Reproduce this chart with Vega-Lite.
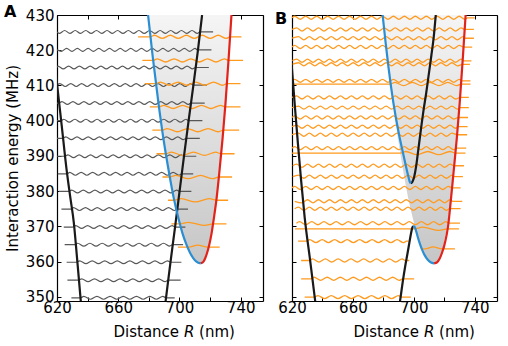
{
  "$schema": "https://vega.github.io/schema/vega-lite/v6.json",
  "padding": {"left": 4, "top": 4, "right": 2, "bottom": 2},
  "config": {
    "font": "DejaVu Sans",
    "view": {"stroke": null},
    "axis": {"labelFont": "DejaVu Sans", "labelFontSize": 15, "labelColor": "#000", "titleFont": "DejaVu Sans", "titleFontSize": 15, "titleFontWeight": "normal", "titleColor": "#000", "domainColor": "#000", "domainWidth": 1.2, "tickColor": "#000", "tickWidth": 1, "tickSize": -4, "grid": false, "labelFlush": false, "labelOverlap": false},
    "title": {"font": "DejaVu Sans", "fontSize": 16, "fontWeight": "bold", "color": "#000", "anchor": "start", "frame": "group", "offset": 0, "baseline": "alphabetic"}
  },
  "datasets": {
    "well": [
      {"e":359.5,"l":714,"r":714},{"e":360,"l":711.1,"r":715.7},{"e":361,"l":709,"r":716.9},{"e":362.5,"l":706.9,"r":718.1},{"e":365,"l":704.4,"r":719.6},{"e":368,"l":702,"r":721},{"e":372,"l":699.5,"r":722.4},{"e":378,"l":696.3,"r":724.3},{"e":385,"l":693.3,"r":726},{"e":395,"l":689.5,"r":728.2},{"e":405,"l":686.3,"r":730.1},{"e":418,"l":682.6,"r":732.2},{"e":430,"l":679.5,"r":734}
    ],
    "potA": [
      {"id":"a1","r":618.5,"e":416.5},{"id":"a1","r":620,"e":410.5},{"id":"a1","r":623.1,"e":398.5},{"id":"a1","r":626.1,"e":386.7},{"id":"a1","r":628.6,"e":378.5},{"id":"a1","r":631,"e":371},{"id":"a1","r":633.3,"e":360},{"id":"a1","r":635.8,"e":347.5},
      {"id":"a2","r":690.6,"e":347.5},{"id":"a2","r":694.2,"e":360},{"id":"a2","r":697.2,"e":370},{"id":"a2","r":700.1,"e":380},{"id":"a2","r":703,"e":390},{"id":"a2","r":706,"e":400},{"id":"a2","r":709.1,"e":410},{"id":"a2","r":712.1,"e":420},{"id":"a2","r":714.8,"e":430}
    ],
    "potB": [
      {"id":"b1","k":"outer","r":618.8,"e":421},{"id":"b1","k":"outer","r":620,"e":414.6},{"id":"b1","k":"outer","r":621.9,"e":404},{"id":"b1","k":"outer","r":623.9,"e":393.4},{"id":"b1","k":"outer","r":626,"e":383},{"id":"b1","k":"outer","r":628.3,"e":372.6},{"id":"b1","k":"outer","r":632,"e":360},{"id":"b1","k":"outer","r":635.6,"e":347.5},
      {"id":"b2","k":"inner-left","r":679.5,"e":430},{"id":"b2","k":"inner-left","r":681.5,"e":422},{"id":"b2","k":"inner-left","r":683.4,"e":415},{"id":"b2","k":"inner-left","r":686.6,"e":405},{"id":"b2","k":"inner-left","r":690.3,"e":396},{"id":"b2","k":"inner-left","r":692.8,"e":391},{"id":"b2","k":"inner-left","r":694.6,"e":387.5},{"id":"b2","k":"inner-left","r":696.2,"e":384.5},{"id":"b2","k":"inner-left","r":697.2,"e":382.8},{"id":"b2","k":"inner-left","r":698,"e":382.2},
      {"id":"b3","k":"outer","r":698,"e":382.2},{"id":"b3","k":"outer","r":699,"e":382.6},{"id":"b3","k":"outer","r":700.2,"e":384},{"id":"b3","k":"outer","r":701.5,"e":387},{"id":"b3","k":"outer","r":703,"e":392},{"id":"b3","k":"outer","r":704.8,"e":398},{"id":"b3","k":"outer","r":706.3,"e":402.8},{"id":"b3","k":"outer","r":708,"e":407.5},{"id":"b3","k":"outer","r":709.5,"e":412.2},{"id":"b3","k":"outer","r":711.5,"e":418.5},{"id":"b3","k":"outer","r":713,"e":423.5},{"id":"b3","k":"outer","r":714.4,"e":430},
      {"id":"b4","k":"outer","r":690.5,"e":347.5},{"id":"b4","k":"outer","r":691.5,"e":350.5},{"id":"b4","k":"outer","r":692.8,"e":354.5},{"id":"b4","k":"outer","r":694.3,"e":358.6},{"id":"b4","k":"outer","r":695.8,"e":362.2},{"id":"b4","k":"outer","r":697,"e":365.2},{"id":"b4","k":"outer","r":698.1,"e":367.9},{"id":"b4","k":"outer","r":698.9,"e":369.5},{"id":"b4","k":"outer","r":699.5,"e":370.1},
      {"id":"b5","k":"inner-left","r":699.5,"e":370.1},{"id":"b5","k":"inner-left","r":700.3,"e":370},{"id":"b5","k":"inner-left","r":701.2,"e":369.1},{"id":"b5","k":"inner-left","r":702.3,"e":367.4},{"id":"b5","k":"inner-left","r":703.6,"e":365.5},{"id":"b5","k":"inner-left","r":705.2,"e":363.6},{"id":"b5","k":"inner-left","r":707,"e":361.9},{"id":"b5","k":"inner-left","r":709,"e":360.6},{"id":"b5","k":"inner-left","r":711,"e":359.8},{"id":"b5","k":"inner-left","r":713.3,"e":359.5},
      {"id":"b6","k":"inner-right","r":713.3,"e":359.5},{"id":"b6","k":"inner-right","r":715.3,"e":359.8},{"id":"b6","k":"inner-right","r":716.8,"e":360.7},{"id":"b6","k":"inner-right","r":718.5,"e":362.5},{"id":"b6","k":"inner-right","r":720,"e":364.6},{"id":"b6","k":"inner-right","r":721.5,"e":367.5},{"id":"b6","k":"inner-right","r":722.6,"e":370.5},{"id":"b6","k":"inner-right","r":724.2,"e":377},{"id":"b6","k":"inner-right","r":726,"e":385},{"id":"b6","k":"inner-right","r":728.2,"e":395},{"id":"b6","k":"inner-right","r":730.1,"e":405},{"id":"b6","k":"inner-right","r":732.2,"e":418},{"id":"b6","k":"inner-right","r":734,"e":430}
    ],
    "wavA": [
      {"i":0,"r":629.4,"e":349.7},{"i":0,"r":635.3,"e":349.7},{"i":0,"r":637.5,"e":350.1},{"i":0,"r":641.8,"e":349.3},{"i":0,"r":646.1,"e":350.1},{"i":0,"r":650.4,"e":349.3},{"i":0,"r":654.7,"e":350.1},{"i":0,"r":659.0,"e":349.3},{"i":0,"r":663.3,"e":350.1},{"i":0,"r":667.6,"e":349.3},{"i":0,"r":671.9,"e":350.1},{"i":0,"r":676.3,"e":349.3},{"i":0,"r":680.6,"e":350.1},{"i":0,"r":684.9,"e":349.3},{"i":0,"r":689.2,"e":350.1},{"i":0,"r":691.3,"e":349.7},{"i":0,"r":696.9,"e":349.7},
      {"i":1,"r":626.8,"e":354.7},{"i":1,"r":634.0,"e":354.7},{"i":1,"r":636.1,"e":355.1},{"i":1,"r":640.3,"e":354.3},{"i":1,"r":644.5,"e":355.1},{"i":1,"r":648.7,"e":354.3},{"i":1,"r":652.9,"e":355.1},{"i":1,"r":657.0,"e":354.3},{"i":1,"r":661.2,"e":355.1},{"i":1,"r":665.4,"e":354.3},{"i":1,"r":669.6,"e":355.1},{"i":1,"r":673.8,"e":354.3},{"i":1,"r":678.0,"e":355.1},{"i":1,"r":682.2,"e":354.3},{"i":1,"r":686.4,"e":355.1},{"i":1,"r":690.6,"e":354.3},{"i":1,"r":692.7,"e":354.7},{"i":1,"r":700.8,"e":354.7},
      {"i":2,"r":626.3,"e":359.8},{"i":2,"r":632.7,"e":359.8},{"i":2,"r":634.8,"e":360.2},{"i":2,"r":638.9,"e":359.4},{"i":2,"r":643.0,"e":360.2},{"i":2,"r":647.1,"e":359.4},{"i":2,"r":651.2,"e":360.2},{"i":2,"r":655.3,"e":359.4},{"i":2,"r":659.4,"e":360.2},{"i":2,"r":663.5,"e":359.4},{"i":2,"r":667.6,"e":360.2},{"i":2,"r":671.7,"e":359.4},{"i":2,"r":675.8,"e":360.2},{"i":2,"r":679.9,"e":359.4},{"i":2,"r":684.0,"e":360.2},{"i":2,"r":688.1,"e":359.4},{"i":2,"r":692.2,"e":360.2},{"i":2,"r":694.2,"e":359.8},{"i":2,"r":701.3,"e":359.8},
      {"i":3,"r":625.0,"e":364.8},{"i":3,"r":631.5,"e":364.8},{"i":3,"r":633.5,"e":365.2},{"i":3,"r":637.5,"e":364.4},{"i":3,"r":641.5,"e":365.2},{"i":3,"r":645.5,"e":364.4},{"i":3,"r":649.5,"e":365.2},{"i":3,"r":653.6,"e":364.4},{"i":3,"r":657.6,"e":365.2},{"i":3,"r":661.6,"e":364.4},{"i":3,"r":665.6,"e":365.2},{"i":3,"r":669.6,"e":364.4},{"i":3,"r":673.6,"e":365.2},{"i":3,"r":677.6,"e":364.4},{"i":3,"r":681.6,"e":365.2},{"i":3,"r":685.6,"e":364.4},{"i":3,"r":689.6,"e":365.2},{"i":3,"r":693.7,"e":364.4},{"i":3,"r":695.7,"e":364.8},{"i":3,"r":702.4,"e":364.8},
      {"i":4,"r":624.4,"e":369.8},{"i":4,"r":630.2,"e":369.8},{"i":4,"r":632.2,"e":370.2},{"i":4,"r":636.1,"e":369.4},{"i":4,"r":640.0,"e":370.2},{"i":4,"r":644.0,"e":369.4},{"i":4,"r":647.9,"e":370.2},{"i":4,"r":651.9,"e":369.4},{"i":4,"r":655.8,"e":370.2},{"i":4,"r":659.7,"e":369.4},{"i":4,"r":663.7,"e":370.2},{"i":4,"r":667.6,"e":369.4},{"i":4,"r":671.6,"e":370.2},{"i":4,"r":675.5,"e":369.4},{"i":4,"r":679.5,"e":370.2},{"i":4,"r":683.4,"e":369.4},{"i":4,"r":687.3,"e":370.2},{"i":4,"r":691.3,"e":369.4},{"i":4,"r":695.2,"e":370.2},{"i":4,"r":697.2,"e":369.8},{"i":4,"r":703.9,"e":369.8},
      {"i":5,"r":622.9,"e":374.9},{"i":5,"r":628.9,"e":374.9},{"i":5,"r":630.8,"e":375.3},{"i":5,"r":634.7,"e":374.5},{"i":5,"r":638.6,"e":375.3},{"i":5,"r":642.5,"e":374.5},{"i":5,"r":646.3,"e":375.3},{"i":5,"r":650.2,"e":374.5},{"i":5,"r":654.1,"e":375.3},{"i":5,"r":658.0,"e":374.5},{"i":5,"r":661.9,"e":375.3},{"i":5,"r":665.7,"e":374.5},{"i":5,"r":669.6,"e":375.3},{"i":5,"r":673.5,"e":374.5},{"i":5,"r":677.4,"e":375.3},{"i":5,"r":681.2,"e":374.5},{"i":5,"r":685.1,"e":375.3},{"i":5,"r":689.0,"e":374.5},{"i":5,"r":692.9,"e":375.3},{"i":5,"r":696.7,"e":374.5},{"i":5,"r":698.6,"e":374.9},{"i":5,"r":705.6,"e":374.9},
      {"i":6,"r":621.3,"e":379.9},{"i":6,"r":627.7,"e":379.9},{"i":6,"r":629.6,"e":380.3},{"i":6,"r":633.4,"e":379.5},{"i":6,"r":637.2,"e":380.3},{"i":6,"r":641.0,"e":379.5},{"i":6,"r":644.8,"e":380.3},{"i":6,"r":648.6,"e":379.5},{"i":6,"r":652.5,"e":380.3},{"i":6,"r":656.3,"e":379.5},{"i":6,"r":660.1,"e":380.3},{"i":6,"r":663.9,"e":379.5},{"i":6,"r":667.7,"e":380.3},{"i":6,"r":671.5,"e":379.5},{"i":6,"r":675.3,"e":380.3},{"i":6,"r":679.1,"e":379.5},{"i":6,"r":682.9,"e":380.3},{"i":6,"r":686.7,"e":379.5},{"i":6,"r":690.6,"e":380.3},{"i":6,"r":694.4,"e":379.5},{"i":6,"r":698.2,"e":380.3},{"i":6,"r":700.1,"e":379.9},{"i":6,"r":707.8,"e":379.9},
      {"i":7,"r":620.5,"e":384.9},{"i":7,"r":626.4,"e":384.9},{"i":7,"r":628.3,"e":385.3},{"i":7,"r":632.0,"e":384.5},{"i":7,"r":635.8,"e":385.3},{"i":7,"r":639.5,"e":384.5},{"i":7,"r":643.3,"e":385.3},{"i":7,"r":647.0,"e":384.5},{"i":7,"r":650.8,"e":385.3},{"i":7,"r":654.6,"e":384.5},{"i":7,"r":658.3,"e":385.3},{"i":7,"r":662.1,"e":384.5},{"i":7,"r":665.8,"e":385.3},{"i":7,"r":669.6,"e":384.5},{"i":7,"r":673.4,"e":385.3},{"i":7,"r":677.1,"e":384.5},{"i":7,"r":680.9,"e":385.3},{"i":7,"r":684.6,"e":384.5},{"i":7,"r":688.4,"e":385.3},{"i":7,"r":692.1,"e":384.5},{"i":7,"r":695.9,"e":385.3},{"i":7,"r":699.7,"e":384.5},{"i":7,"r":701.6,"e":384.9},{"i":7,"r":709.0,"e":384.9},
      {"i":8,"r":620.0,"e":389.9},{"i":8,"r":625.2,"e":389.9},{"i":8,"r":627.1,"e":390.3},{"i":8,"r":630.8,"e":389.5},{"i":8,"r":634.5,"e":390.3},{"i":8,"r":638.2,"e":389.5},{"i":8,"r":641.9,"e":390.3},{"i":8,"r":645.6,"e":389.5},{"i":8,"r":649.3,"e":390.3},{"i":8,"r":653.0,"e":389.5},{"i":8,"r":656.7,"e":390.3},{"i":8,"r":660.4,"e":389.5},{"i":8,"r":664.1,"e":390.3},{"i":8,"r":667.8,"e":389.5},{"i":8,"r":671.5,"e":390.3},{"i":8,"r":675.2,"e":389.5},{"i":8,"r":678.9,"e":390.3},{"i":8,"r":682.6,"e":389.5},{"i":8,"r":686.3,"e":390.3},{"i":8,"r":690.0,"e":389.5},{"i":8,"r":693.7,"e":390.3},{"i":8,"r":697.4,"e":389.5},{"i":8,"r":701.1,"e":390.3},{"i":8,"r":703.0,"e":389.9},{"i":8,"r":711.0,"e":389.9},
      {"i":9,"r":620.0,"e":395.0},{"i":9,"r":623.9,"e":395.0},{"i":9,"r":625.7,"e":395.4},{"i":9,"r":629.4,"e":394.6},{"i":9,"r":633.1,"e":395.4},{"i":9,"r":636.7,"e":394.6},{"i":9,"r":640.4,"e":395.4},{"i":9,"r":644.0,"e":394.6},{"i":9,"r":647.7,"e":395.4},{"i":9,"r":651.3,"e":394.6},{"i":9,"r":655.0,"e":395.4},{"i":9,"r":658.6,"e":394.6},{"i":9,"r":662.3,"e":395.4},{"i":9,"r":666.0,"e":394.6},{"i":9,"r":669.6,"e":395.4},{"i":9,"r":673.3,"e":394.6},{"i":9,"r":676.9,"e":395.4},{"i":9,"r":680.6,"e":394.6},{"i":9,"r":684.2,"e":395.4},{"i":9,"r":687.9,"e":394.6},{"i":9,"r":691.5,"e":395.4},{"i":9,"r":695.2,"e":394.6},{"i":9,"r":698.9,"e":395.4},{"i":9,"r":702.5,"e":394.6},{"i":9,"r":704.5,"e":395.0},{"i":9,"r":713.3,"e":395.0},
      {"i":10,"r":620.0,"e":400.0},{"i":10,"r":622.6,"e":400.0},{"i":10,"r":624.4,"e":400.4},{"i":10,"r":628.0,"e":399.6},{"i":10,"r":631.7,"e":400.4},{"i":10,"r":635.3,"e":399.6},{"i":10,"r":638.9,"e":400.4},{"i":10,"r":642.6,"e":399.6},{"i":10,"r":646.2,"e":400.4},{"i":10,"r":649.8,"e":399.6},{"i":10,"r":653.5,"e":400.4},{"i":10,"r":657.1,"e":399.6},{"i":10,"r":660.7,"e":400.4},{"i":10,"r":664.3,"e":399.6},{"i":10,"r":668.0,"e":400.4},{"i":10,"r":671.6,"e":399.6},{"i":10,"r":675.2,"e":400.4},{"i":10,"r":678.9,"e":399.6},{"i":10,"r":682.5,"e":400.4},{"i":10,"r":686.1,"e":399.6},{"i":10,"r":689.8,"e":400.4},{"i":10,"r":693.4,"e":399.6},{"i":10,"r":697.0,"e":400.4},{"i":10,"r":700.7,"e":399.6},{"i":10,"r":704.3,"e":400.4},{"i":10,"r":706.0,"e":400.0},{"i":10,"r":715.0,"e":400.0},
      {"i":11,"r":620.0,"e":405.0},{"i":11,"r":621.4,"e":405.0},{"i":11,"r":623.2,"e":405.4},{"i":11,"r":626.8,"e":404.6},{"i":11,"r":630.4,"e":405.4},{"i":11,"r":634.0,"e":404.6},{"i":11,"r":637.6,"e":405.4},{"i":11,"r":641.2,"e":404.6},{"i":11,"r":644.7,"e":405.4},{"i":11,"r":648.3,"e":404.6},{"i":11,"r":651.9,"e":405.4},{"i":11,"r":655.5,"e":404.6},{"i":11,"r":659.1,"e":405.4},{"i":11,"r":662.7,"e":404.6},{"i":11,"r":666.3,"e":405.4},{"i":11,"r":669.9,"e":404.6},{"i":11,"r":673.5,"e":405.4},{"i":11,"r":677.1,"e":404.6},{"i":11,"r":680.6,"e":405.4},{"i":11,"r":684.2,"e":404.6},{"i":11,"r":687.8,"e":405.4},{"i":11,"r":691.4,"e":404.6},{"i":11,"r":695.0,"e":405.4},{"i":11,"r":698.6,"e":404.6},{"i":11,"r":702.2,"e":405.4},{"i":11,"r":705.8,"e":404.6},{"i":11,"r":707.5,"e":405.0},{"i":11,"r":716.5,"e":405.0},
      {"i":12,"r":620.0,"e":410.1},{"i":12,"r":621.9,"e":410.5},{"i":12,"r":625.4,"e":409.7},{"i":12,"r":629.0,"e":410.5},{"i":12,"r":632.6,"e":409.7},{"i":12,"r":636.1,"e":410.5},{"i":12,"r":639.7,"e":409.7},{"i":12,"r":643.3,"e":410.5},{"i":12,"r":646.8,"e":409.7},{"i":12,"r":650.4,"e":410.5},{"i":12,"r":653.9,"e":409.7},{"i":12,"r":657.5,"e":410.5},{"i":12,"r":661.1,"e":409.7},{"i":12,"r":664.6,"e":410.5},{"i":12,"r":668.2,"e":409.7},{"i":12,"r":671.7,"e":410.5},{"i":12,"r":675.3,"e":409.7},{"i":12,"r":678.9,"e":410.5},{"i":12,"r":682.4,"e":409.7},{"i":12,"r":686.0,"e":410.5},{"i":12,"r":689.6,"e":409.7},{"i":12,"r":693.1,"e":410.5},{"i":12,"r":696.7,"e":409.7},{"i":12,"r":700.2,"e":410.5},{"i":12,"r":703.8,"e":409.7},{"i":12,"r":707.4,"e":410.5},{"i":12,"r":709.0,"e":410.1},{"i":12,"r":718.0,"e":410.1},
      {"i":13,"r":620.0,"e":415.1},{"i":13,"r":620.6,"e":415.5},{"i":13,"r":624.1,"e":414.7},{"i":13,"r":627.6,"e":415.5},{"i":13,"r":631.1,"e":414.7},{"i":13,"r":634.6,"e":415.5},{"i":13,"r":638.2,"e":414.7},{"i":13,"r":641.7,"e":415.5},{"i":13,"r":645.2,"e":414.7},{"i":13,"r":648.7,"e":415.5},{"i":13,"r":652.2,"e":414.7},{"i":13,"r":655.8,"e":415.5},{"i":13,"r":659.3,"e":414.7},{"i":13,"r":662.8,"e":415.5},{"i":13,"r":666.3,"e":414.7},{"i":13,"r":669.8,"e":415.5},{"i":13,"r":673.4,"e":414.7},{"i":13,"r":676.9,"e":415.5},{"i":13,"r":680.4,"e":414.7},{"i":13,"r":683.9,"e":415.5},{"i":13,"r":687.4,"e":414.7},{"i":13,"r":691.0,"e":415.5},{"i":13,"r":694.5,"e":414.7},{"i":13,"r":698.0,"e":415.5},{"i":13,"r":701.5,"e":414.7},{"i":13,"r":705.0,"e":415.5},{"i":13,"r":708.6,"e":414.7},{"i":13,"r":710.4,"e":415.1},{"i":13,"r":719.2,"e":415.1},
      {"i":14,"r":620.0,"e":420.1},{"i":14,"r":622.8,"e":419.7},{"i":14,"r":626.3,"e":420.5},{"i":14,"r":629.8,"e":419.7},{"i":14,"r":633.3,"e":420.5},{"i":14,"r":636.8,"e":419.7},{"i":14,"r":640.3,"e":420.5},{"i":14,"r":643.8,"e":419.7},{"i":14,"r":647.3,"e":420.5},{"i":14,"r":650.8,"e":419.7},{"i":14,"r":654.3,"e":420.5},{"i":14,"r":657.8,"e":419.7},{"i":14,"r":661.3,"e":420.5},{"i":14,"r":664.7,"e":419.7},{"i":14,"r":668.2,"e":420.5},{"i":14,"r":671.7,"e":419.7},{"i":14,"r":675.2,"e":420.5},{"i":14,"r":678.7,"e":419.7},{"i":14,"r":682.2,"e":420.5},{"i":14,"r":685.7,"e":419.7},{"i":14,"r":689.2,"e":420.5},{"i":14,"r":692.7,"e":419.7},{"i":14,"r":696.2,"e":420.5},{"i":14,"r":699.7,"e":419.7},{"i":14,"r":703.2,"e":420.5},{"i":14,"r":706.7,"e":419.7},{"i":14,"r":710.2,"e":420.5},{"i":14,"r":711.9,"e":420.1},{"i":14,"r":720.9,"e":420.1},
      {"i":15,"r":620.0,"e":425.2},{"i":15,"r":621.5,"e":424.8},{"i":15,"r":625.0,"e":425.6},{"i":15,"r":628.4,"e":424.8},{"i":15,"r":631.9,"e":425.6},{"i":15,"r":635.4,"e":424.8},{"i":15,"r":638.8,"e":425.6},{"i":15,"r":642.3,"e":424.8},{"i":15,"r":645.8,"e":425.6},{"i":15,"r":649.2,"e":424.8},{"i":15,"r":652.7,"e":425.6},{"i":15,"r":656.2,"e":424.8},{"i":15,"r":659.6,"e":425.6},{"i":15,"r":663.1,"e":424.8},{"i":15,"r":666.6,"e":425.6},{"i":15,"r":670.0,"e":424.8},{"i":15,"r":673.5,"e":425.6},{"i":15,"r":677.0,"e":424.8},{"i":15,"r":680.5,"e":425.6},{"i":15,"r":683.9,"e":424.8},{"i":15,"r":687.4,"e":425.6},{"i":15,"r":690.9,"e":424.8},{"i":15,"r":694.3,"e":425.6},{"i":15,"r":697.8,"e":424.8},{"i":15,"r":701.3,"e":425.6},{"i":15,"r":704.7,"e":424.8},{"i":15,"r":708.2,"e":425.6},{"i":15,"r":711.7,"e":424.8},{"i":15,"r":713.4,"e":425.2},{"i":15,"r":722.0,"e":425.2}
    ],
    "innA": [
      {"i":0,"r":699.0,"e":364.1},{"i":0,"r":706.0,"e":364.1},{"i":0,"r":712.0,"e":364.65},{"i":0,"r":718.5,"e":364.1},{"i":0,"r":726.3,"e":364.1},
      {"i":1,"r":694.8,"e":370.7},{"i":1,"r":700.2,"e":370.7},{"i":1,"r":705.7,"e":371.15},{"i":1,"r":716.6,"e":370.25},{"i":1,"r":722.0,"e":370.7},{"i":1,"r":730.7,"e":370.7},
      {"i":2,"r":692.5,"e":377.4},{"i":2,"r":696.6,"e":377.4},{"i":2,"r":701.2,"e":377.85},{"i":2,"r":710.35,"e":376.95},{"i":2,"r":719.5,"e":377.85},{"i":2,"r":724.1,"e":377.4},{"i":2,"r":731.8,"e":377.4},
      {"i":3,"r":688.9,"e":384.0},{"i":3,"r":693.7,"e":384.0},{"i":3,"r":697.7,"e":384.45},{"i":3,"r":705.7,"e":383.55},{"i":3,"r":713.8,"e":384.45},{"i":3,"r":721.8,"e":383.55},{"i":3,"r":725.8,"e":384.0},{"i":3,"r":734.4,"e":384.0},
      {"i":4,"r":685.0,"e":390.6},{"i":4,"r":691.1,"e":390.6},{"i":4,"r":694.7,"e":391.05},{"i":4,"r":702.0,"e":390.15},{"i":4,"r":709.2,"e":391.05},{"i":4,"r":716.4,"e":390.15},{"i":4,"r":723.7,"e":391.05},{"i":4,"r":727.3,"e":390.6},{"i":4,"r":736.0,"e":390.6},
      {"i":5,"r":682.3,"e":397.3},{"i":5,"r":688.7,"e":397.3},{"i":5,"r":692.0,"e":397.75},{"i":5,"r":698.7,"e":396.85},{"i":5,"r":705.35,"e":397.75},{"i":5,"r":712.0,"e":396.85},{"i":5,"r":718.7,"e":397.75},{"i":5,"r":725.3,"e":396.85},{"i":5,"r":728.65,"e":397.3},{"i":5,"r":739.0,"e":397.3},
      {"i":6,"r":680.6,"e":403.9},{"i":6,"r":686.6,"e":403.9},{"i":6,"r":689.7,"e":404.35},{"i":6,"r":695.9,"e":403.45},{"i":6,"r":702.1,"e":404.35},{"i":6,"r":708.3,"e":403.45},{"i":6,"r":714.4,"e":404.35},{"i":6,"r":720.6,"e":403.45},{"i":6,"r":726.8,"e":404.35},{"i":6,"r":729.9,"e":403.9},{"i":6,"r":739.9,"e":403.9},
      {"i":7,"r":677.3,"e":410.5},{"i":7,"r":684.65,"e":410.5},{"i":7,"r":687.5,"e":410.95},{"i":7,"r":693.3,"e":410.05},{"i":7,"r":699.1,"e":410.95},{"i":7,"r":704.9,"e":410.05},{"i":7,"r":710.7,"e":410.95},{"i":7,"r":716.5,"e":410.05},{"i":7,"r":722.3,"e":410.95},{"i":7,"r":728.1,"e":410.05},{"i":7,"r":731.0,"e":410.5},{"i":7,"r":739.9,"e":410.5},
      {"i":8,"r":675.8,"e":417.1},{"i":8,"r":682.8,"e":417.1},{"i":8,"r":685.5,"e":417.55},{"i":8,"r":691.0,"e":416.65},{"i":8,"r":696.5,"e":417.55},{"i":8,"r":702.0,"e":416.65},{"i":8,"r":707.5,"e":417.55},{"i":8,"r":713.0,"e":416.65},{"i":8,"r":718.4,"e":417.55},{"i":8,"r":723.9,"e":416.65},{"i":8,"r":729.4,"e":417.55},{"i":8,"r":732.1,"e":417.1},{"i":8,"r":741.6,"e":417.1},
      {"i":9,"r":673.0,"e":423.8},{"i":9,"r":681.0,"e":423.8},{"i":9,"r":683.6,"e":424.25},{"i":9,"r":688.8,"e":423.35},{"i":9,"r":694.0,"e":424.25},{"i":9,"r":699.2,"e":423.35},{"i":9,"r":704.5,"e":424.25},{"i":9,"r":709.7,"e":423.35},{"i":9,"r":714.9,"e":424.25},{"i":9,"r":720.1,"e":423.35},{"i":9,"r":725.3,"e":424.25},{"i":9,"r":730.5,"e":423.35},{"i":9,"r":733.1,"e":423.8},{"i":9,"r":740.5,"e":423.8}
    ],
    "wavB": [
      {"i":1,"r":620,"e":429.2},{"i":1,"r":621.8,"e":429.65},{"i":1,"r":625.4,"e":428.75},{"i":1,"r":629.0,"e":429.65},{"i":1,"r":632.6,"e":428.75},{"i":1,"r":636.2,"e":429.65},{"i":1,"r":639.8,"e":428.75},{"i":1,"r":643.4,"e":429.65},{"i":1,"r":647.0,"e":428.75},{"i":1,"r":650.6,"e":429.65},{"i":1,"r":654.2,"e":428.75},{"i":1,"r":657.8,"e":429.65},{"i":1,"r":661.4,"e":428.75},{"i":1,"r":665.0,"e":429.65},{"i":1,"r":668.6,"e":428.75},{"i":1,"r":672.2,"e":429.65},{"i":1,"r":675.8,"e":428.75},{"i":1,"r":679.4,"e":429.65},{"i":1,"r":683.0,"e":428.75},{"i":1,"r":686.6,"e":429.65},{"i":1,"r":690.2,"e":428.75},{"i":1,"r":693.8,"e":429.65},{"i":1,"r":697.4,"e":428.75},{"i":1,"r":701.0,"e":429.65},{"i":1,"r":704.6,"e":428.75},{"i":1,"r":708.2,"e":429.65},{"i":1,"r":711.8,"e":428.75},{"i":1,"r":715.4,"e":429.65},{"i":1,"r":719.0,"e":428.75},{"i":1,"r":722.6,"e":429.65},{"i":1,"r":726.2,"e":428.75},{"i":1,"r":729.8,"e":429.65},{"i":1,"r":733.4,"e":428.75},{"i":1,"r":735.2,"e":429.2},{"i":1,"r":740.0,"e":429.2},
      {"i":2,"r":620,"e":425.9},{"i":2,"r":623.0,"e":426.35},{"i":2,"r":626.6,"e":425.45},{"i":2,"r":630.2,"e":426.35},{"i":2,"r":633.8,"e":425.45},{"i":2,"r":637.4,"e":426.35},{"i":2,"r":641.0,"e":425.45},{"i":2,"r":644.6,"e":426.35},{"i":2,"r":648.2,"e":425.45},{"i":2,"r":651.8,"e":426.35},{"i":2,"r":655.4,"e":425.45},{"i":2,"r":659.0,"e":426.35},{"i":2,"r":662.6,"e":425.45},{"i":2,"r":666.2,"e":426.35},{"i":2,"r":669.8,"e":425.45},{"i":2,"r":673.4,"e":426.35},{"i":2,"r":677.0,"e":425.45},{"i":2,"r":680.6,"e":426.35},{"i":2,"r":684.2,"e":425.45},{"i":2,"r":687.8,"e":426.35},{"i":2,"r":691.4,"e":425.45},{"i":2,"r":695.0,"e":426.35},{"i":2,"r":698.6,"e":425.45},{"i":2,"r":702.2,"e":426.35},{"i":2,"r":705.8,"e":425.45},{"i":2,"r":709.4,"e":426.35},{"i":2,"r":713.0,"e":425.45},{"i":2,"r":716.6,"e":426.35},{"i":2,"r":720.2,"e":425.45},{"i":2,"r":723.8,"e":426.35},{"i":2,"r":727.4,"e":425.45},{"i":2,"r":731.0,"e":426.35},{"i":2,"r":733.4,"e":425.9},{"i":2,"r":739.4,"e":425.9},
      {"i":3,"r":620,"e":423.4},{"i":3,"r":624.2,"e":423.85},{"i":3,"r":627.8,"e":422.95},{"i":3,"r":631.4,"e":423.85},{"i":3,"r":635.0,"e":422.95},{"i":3,"r":638.6,"e":423.85},{"i":3,"r":642.2,"e":422.95},{"i":3,"r":645.8,"e":423.85},{"i":3,"r":649.4,"e":422.95},{"i":3,"r":653.0,"e":423.85},{"i":3,"r":656.6,"e":422.95},{"i":3,"r":660.2,"e":423.85},{"i":3,"r":663.8,"e":422.95},{"i":3,"r":667.4,"e":423.85},{"i":3,"r":671.0,"e":422.95},{"i":3,"r":674.6,"e":423.85},{"i":3,"r":678.2,"e":422.95},{"i":3,"r":681.8,"e":423.85},{"i":3,"r":685.4,"e":422.95},{"i":3,"r":689.0,"e":423.85},{"i":3,"r":692.6,"e":422.95},{"i":3,"r":696.2,"e":423.85},{"i":3,"r":699.8,"e":422.95},{"i":3,"r":703.4,"e":423.85},{"i":3,"r":707.0,"e":422.95},{"i":3,"r":710.6,"e":423.85},{"i":3,"r":714.2,"e":422.95},{"i":3,"r":717.8,"e":423.85},{"i":3,"r":721.4,"e":422.95},{"i":3,"r":725.0,"e":423.85},{"i":3,"r":728.6,"e":422.95},{"i":3,"r":732.2,"e":423.85},{"i":3,"r":734.0,"e":423.4},{"i":3,"r":739.4,"e":423.4},
      {"i":4,"r":620,"e":420.9},{"i":4,"r":621.8,"e":421.35},{"i":4,"r":625.4,"e":420.45},{"i":4,"r":629.0,"e":421.35},{"i":4,"r":632.6,"e":420.45},{"i":4,"r":636.2,"e":421.35},{"i":4,"r":639.8,"e":420.45},{"i":4,"r":643.4,"e":421.35},{"i":4,"r":647.0,"e":420.45},{"i":4,"r":650.6,"e":421.35},{"i":4,"r":654.2,"e":420.45},{"i":4,"r":657.8,"e":421.35},{"i":4,"r":661.4,"e":420.45},{"i":4,"r":665.0,"e":421.35},{"i":4,"r":668.6,"e":420.45},{"i":4,"r":672.2,"e":421.35},{"i":4,"r":675.8,"e":420.45},{"i":4,"r":679.4,"e":421.35},{"i":4,"r":683.0,"e":420.45},{"i":4,"r":686.6,"e":421.35},{"i":4,"r":690.2,"e":420.45},{"i":4,"r":693.8,"e":421.35},{"i":4,"r":697.4,"e":420.45},{"i":4,"r":701.0,"e":421.35},{"i":4,"r":704.6,"e":420.45},{"i":4,"r":708.2,"e":421.35},{"i":4,"r":711.8,"e":420.45},{"i":4,"r":715.4,"e":421.35},{"i":4,"r":719.0,"e":420.45},{"i":4,"r":722.6,"e":421.35},{"i":4,"r":726.2,"e":420.45},{"i":4,"r":729.8,"e":421.35},{"i":4,"r":732.7,"e":420.9},{"i":4,"r":738.3,"e":420.9},
      {"i":5,"r":620,"e":417.0},{"i":5,"r":623.0,"e":417.45},{"i":5,"r":626.6,"e":416.55},{"i":5,"r":630.2,"e":417.45},{"i":5,"r":633.8,"e":416.55},{"i":5,"r":637.4,"e":417.45},{"i":5,"r":641.0,"e":416.55},{"i":5,"r":644.6,"e":417.45},{"i":5,"r":648.2,"e":416.55},{"i":5,"r":651.8,"e":417.45},{"i":5,"r":655.4,"e":416.55},{"i":5,"r":659.0,"e":417.45},{"i":5,"r":662.6,"e":416.55},{"i":5,"r":666.2,"e":417.45},{"i":5,"r":669.8,"e":416.55},{"i":5,"r":673.4,"e":417.45},{"i":5,"r":677.0,"e":416.55},{"i":5,"r":680.6,"e":417.45},{"i":5,"r":684.2,"e":416.55},{"i":5,"r":687.8,"e":417.45},{"i":5,"r":691.4,"e":416.55},{"i":5,"r":695.0,"e":417.45},{"i":5,"r":698.6,"e":416.55},{"i":5,"r":702.2,"e":417.45},{"i":5,"r":705.8,"e":416.55},{"i":5,"r":709.4,"e":417.45},{"i":5,"r":713.0,"e":416.55},{"i":5,"r":716.6,"e":417.45},{"i":5,"r":720.2,"e":416.55},{"i":5,"r":723.8,"e":417.45},{"i":5,"r":727.4,"e":416.55},{"i":5,"r":731.0,"e":417.45},{"i":5,"r":732.8,"e":417.0},{"i":5,"r":737.8,"e":417.0},
      {"i":6,"r":620,"e":416.0},{"i":6,"r":624.2,"e":416.45},{"i":6,"r":627.8,"e":415.55},{"i":6,"r":631.4,"e":416.45},{"i":6,"r":635.0,"e":415.55},{"i":6,"r":638.6,"e":416.45},{"i":6,"r":642.2,"e":415.55},{"i":6,"r":645.8,"e":416.45},{"i":6,"r":649.4,"e":415.55},{"i":6,"r":653.0,"e":416.45},{"i":6,"r":656.6,"e":415.55},{"i":6,"r":660.2,"e":416.45},{"i":6,"r":663.8,"e":415.55},{"i":6,"r":667.4,"e":416.45},{"i":6,"r":671.0,"e":415.55},{"i":6,"r":674.6,"e":416.45},{"i":6,"r":678.2,"e":415.55},{"i":6,"r":681.8,"e":416.45},{"i":6,"r":685.4,"e":415.55},{"i":6,"r":689.0,"e":416.45},{"i":6,"r":692.6,"e":415.55},{"i":6,"r":696.2,"e":416.45},{"i":6,"r":699.8,"e":415.55},{"i":6,"r":703.4,"e":416.45},{"i":6,"r":707.0,"e":415.55},{"i":6,"r":710.6,"e":416.45},{"i":6,"r":714.2,"e":415.55},{"i":6,"r":717.8,"e":416.45},{"i":6,"r":721.4,"e":415.55},{"i":6,"r":725.0,"e":416.45},{"i":6,"r":728.6,"e":415.55},{"i":6,"r":731.9,"e":416.0},{"i":6,"r":736.8,"e":416.0},
      {"i":7,"r":620,"e":411.3},{"i":7,"r":621.8,"e":411.75},{"i":7,"r":625.4,"e":410.85},{"i":7,"r":629.0,"e":411.75},{"i":7,"r":632.6,"e":410.85},{"i":7,"r":636.2,"e":411.75},{"i":7,"r":639.8,"e":410.85},{"i":7,"r":643.4,"e":411.75},{"i":7,"r":647.0,"e":410.85},{"i":7,"r":650.6,"e":411.75},{"i":7,"r":654.2,"e":410.85},{"i":7,"r":657.8,"e":411.75},{"i":7,"r":661.4,"e":410.85},{"i":7,"r":665.0,"e":411.75},{"i":7,"r":668.6,"e":410.85},{"i":7,"r":672.2,"e":411.75},{"i":7,"r":675.8,"e":410.85},{"i":7,"r":679.4,"e":411.75},{"i":7,"r":683.0,"e":410.85},{"i":7,"r":686.6,"e":411.75},{"i":7,"r":690.2,"e":410.85},{"i":7,"r":693.8,"e":411.75},{"i":7,"r":697.4,"e":410.85},{"i":7,"r":701.0,"e":411.75},{"i":7,"r":704.6,"e":410.85},{"i":7,"r":708.2,"e":411.75},{"i":7,"r":711.8,"e":410.85},{"i":7,"r":715.4,"e":411.75},{"i":7,"r":719.0,"e":410.85},{"i":7,"r":722.6,"e":411.75},{"i":7,"r":726.2,"e":410.85},{"i":7,"r":729.8,"e":411.75},{"i":7,"r":731.6,"e":411.3},{"i":7,"r":737.2,"e":411.3},
      {"i":8,"r":620,"e":406.6},{"i":8,"r":623.0,"e":407.05},{"i":8,"r":626.6,"e":406.15},{"i":8,"r":630.2,"e":407.05},{"i":8,"r":633.8,"e":406.15},{"i":8,"r":637.4,"e":407.05},{"i":8,"r":641.0,"e":406.15},{"i":8,"r":644.6,"e":407.05},{"i":8,"r":648.2,"e":406.15},{"i":8,"r":651.8,"e":407.05},{"i":8,"r":655.4,"e":406.15},{"i":8,"r":659.0,"e":407.05},{"i":8,"r":662.6,"e":406.15},{"i":8,"r":666.2,"e":407.05},{"i":8,"r":669.8,"e":406.15},{"i":8,"r":673.4,"e":407.05},{"i":8,"r":677.0,"e":406.15},{"i":8,"r":680.6,"e":407.05},{"i":8,"r":684.2,"e":406.15},{"i":8,"r":687.8,"e":407.05},{"i":8,"r":691.4,"e":406.15},{"i":8,"r":695.0,"e":407.05},{"i":8,"r":698.6,"e":406.15},{"i":8,"r":702.2,"e":407.05},{"i":8,"r":705.8,"e":406.15},{"i":8,"r":709.4,"e":407.05},{"i":8,"r":713.0,"e":406.15},{"i":8,"r":716.6,"e":407.05},{"i":8,"r":720.2,"e":406.15},{"i":8,"r":723.8,"e":407.05},{"i":8,"r":727.4,"e":406.15},{"i":8,"r":730.4,"e":406.6},{"i":8,"r":736.1,"e":406.6},
      {"i":9,"r":620,"e":403.7},{"i":9,"r":624.2,"e":404.15},{"i":9,"r":627.8,"e":403.25},{"i":9,"r":631.4,"e":404.15},{"i":9,"r":635.0,"e":403.25},{"i":9,"r":638.6,"e":404.15},{"i":9,"r":642.2,"e":403.25},{"i":9,"r":645.8,"e":404.15},{"i":9,"r":649.4,"e":403.25},{"i":9,"r":653.0,"e":404.15},{"i":9,"r":656.6,"e":403.25},{"i":9,"r":660.2,"e":404.15},{"i":9,"r":663.8,"e":403.25},{"i":9,"r":667.4,"e":404.15},{"i":9,"r":671.0,"e":403.25},{"i":9,"r":674.6,"e":404.15},{"i":9,"r":678.2,"e":403.25},{"i":9,"r":681.8,"e":404.15},{"i":9,"r":685.4,"e":403.25},{"i":9,"r":689.0,"e":404.15},{"i":9,"r":692.6,"e":403.25},{"i":9,"r":696.2,"e":404.15},{"i":9,"r":699.8,"e":403.25},{"i":9,"r":703.4,"e":404.15},{"i":9,"r":707.0,"e":403.25},{"i":9,"r":710.6,"e":404.15},{"i":9,"r":714.2,"e":403.25},{"i":9,"r":717.8,"e":404.15},{"i":9,"r":721.4,"e":403.25},{"i":9,"r":725.0,"e":404.15},{"i":9,"r":728.6,"e":403.25},{"i":9,"r":730.4,"e":403.7},{"i":9,"r":736.1,"e":403.7},
      {"i":10,"r":620,"e":400.9},{"i":10,"r":621.8,"e":401.35},{"i":10,"r":625.4,"e":400.45},{"i":10,"r":629.0,"e":401.35},{"i":10,"r":632.6,"e":400.45},{"i":10,"r":636.2,"e":401.35},{"i":10,"r":639.8,"e":400.45},{"i":10,"r":643.4,"e":401.35},{"i":10,"r":647.0,"e":400.45},{"i":10,"r":650.6,"e":401.35},{"i":10,"r":654.2,"e":400.45},{"i":10,"r":657.8,"e":401.35},{"i":10,"r":661.4,"e":400.45},{"i":10,"r":665.0,"e":401.35},{"i":10,"r":668.6,"e":400.45},{"i":10,"r":672.2,"e":401.35},{"i":10,"r":675.8,"e":400.45},{"i":10,"r":679.4,"e":401.35},{"i":10,"r":683.0,"e":400.45},{"i":10,"r":686.6,"e":401.35},{"i":10,"r":690.2,"e":400.45},{"i":10,"r":693.8,"e":401.35},{"i":10,"r":697.4,"e":400.45},{"i":10,"r":701.0,"e":401.35},{"i":10,"r":704.6,"e":400.45},{"i":10,"r":708.2,"e":401.35},{"i":10,"r":711.8,"e":400.45},{"i":10,"r":715.4,"e":401.35},{"i":10,"r":719.0,"e":400.45},{"i":10,"r":722.6,"e":401.35},{"i":10,"r":726.2,"e":400.45},{"i":10,"r":729.3,"e":400.9},{"i":10,"r":735.6,"e":400.9},
      {"i":11,"r":620,"e":398.3},{"i":11,"r":623.0,"e":398.75},{"i":11,"r":626.6,"e":397.85},{"i":11,"r":630.2,"e":398.75},{"i":11,"r":633.8,"e":397.85},{"i":11,"r":637.4,"e":398.75},{"i":11,"r":641.0,"e":397.85},{"i":11,"r":644.6,"e":398.75},{"i":11,"r":648.2,"e":397.85},{"i":11,"r":651.8,"e":398.75},{"i":11,"r":655.4,"e":397.85},{"i":11,"r":659.0,"e":398.75},{"i":11,"r":662.6,"e":397.85},{"i":11,"r":666.2,"e":398.75},{"i":11,"r":669.8,"e":397.85},{"i":11,"r":673.4,"e":398.75},{"i":11,"r":677.0,"e":397.85},{"i":11,"r":680.6,"e":398.75},{"i":11,"r":684.2,"e":397.85},{"i":11,"r":687.8,"e":398.75},{"i":11,"r":691.4,"e":397.85},{"i":11,"r":695.0,"e":398.75},{"i":11,"r":698.6,"e":397.85},{"i":11,"r":702.2,"e":398.75},{"i":11,"r":705.8,"e":397.85},{"i":11,"r":709.4,"e":398.75},{"i":11,"r":713.0,"e":397.85},{"i":11,"r":716.6,"e":398.75},{"i":11,"r":720.2,"e":397.85},{"i":11,"r":723.8,"e":398.75},{"i":11,"r":727.4,"e":397.85},{"i":11,"r":729.2,"e":398.3},{"i":11,"r":735.3,"e":398.3},
      {"i":12,"r":620,"e":396.0},{"i":12,"r":624.2,"e":396.45},{"i":12,"r":627.8,"e":395.55},{"i":12,"r":631.4,"e":396.45},{"i":12,"r":635.0,"e":395.55},{"i":12,"r":638.6,"e":396.45},{"i":12,"r":642.2,"e":395.55},{"i":12,"r":645.8,"e":396.45},{"i":12,"r":649.4,"e":395.55},{"i":12,"r":653.0,"e":396.45},{"i":12,"r":656.6,"e":395.55},{"i":12,"r":660.2,"e":396.45},{"i":12,"r":663.8,"e":395.55},{"i":12,"r":667.4,"e":396.45},{"i":12,"r":671.0,"e":395.55},{"i":12,"r":674.6,"e":396.45},{"i":12,"r":678.2,"e":395.55},{"i":12,"r":681.8,"e":396.45},{"i":12,"r":685.4,"e":395.55},{"i":12,"r":689.0,"e":396.45},{"i":12,"r":692.6,"e":395.55},{"i":12,"r":696.2,"e":396.45},{"i":12,"r":699.8,"e":395.55},{"i":12,"r":703.4,"e":396.45},{"i":12,"r":707.0,"e":395.55},{"i":12,"r":710.6,"e":396.45},{"i":12,"r":714.2,"e":395.55},{"i":12,"r":717.8,"e":396.45},{"i":12,"r":721.4,"e":395.55},{"i":12,"r":725.0,"e":396.45},{"i":12,"r":728.4,"e":396.0},{"i":12,"r":735.0,"e":396.0},
      {"i":13,"r":620,"e":392.2},{"i":13,"r":621.8,"e":392.65},{"i":13,"r":625.4,"e":391.75},{"i":13,"r":629.0,"e":392.65},{"i":13,"r":632.6,"e":391.75},{"i":13,"r":636.2,"e":392.65},{"i":13,"r":639.8,"e":391.75},{"i":13,"r":643.4,"e":392.65},{"i":13,"r":647.0,"e":391.75},{"i":13,"r":650.6,"e":392.65},{"i":13,"r":654.2,"e":391.75},{"i":13,"r":657.8,"e":392.65},{"i":13,"r":661.4,"e":391.75},{"i":13,"r":665.0,"e":392.65},{"i":13,"r":668.6,"e":391.75},{"i":13,"r":672.2,"e":392.65},{"i":13,"r":675.8,"e":391.75},{"i":13,"r":679.4,"e":392.65},{"i":13,"r":683.0,"e":391.75},{"i":13,"r":686.6,"e":392.65},{"i":13,"r":690.2,"e":391.75},{"i":13,"r":693.8,"e":392.65},{"i":13,"r":697.4,"e":391.75},{"i":13,"r":701.0,"e":392.65},{"i":13,"r":704.6,"e":391.75},{"i":13,"r":708.2,"e":392.65},{"i":13,"r":711.8,"e":391.75},{"i":13,"r":715.4,"e":392.65},{"i":13,"r":719.0,"e":391.75},{"i":13,"r":722.6,"e":392.65},{"i":13,"r":726.2,"e":391.75},{"i":13,"r":728.0,"e":392.2},{"i":13,"r":734.4,"e":392.2},
      {"i":14,"r":620.5,"e":387.2},{"i":14,"r":623.0,"e":387.65},{"i":14,"r":626.6,"e":386.75},{"i":14,"r":630.2,"e":387.65},{"i":14,"r":633.8,"e":386.75},{"i":14,"r":637.4,"e":387.65},{"i":14,"r":641.0,"e":386.75},{"i":14,"r":644.6,"e":387.65},{"i":14,"r":648.2,"e":386.75},{"i":14,"r":651.8,"e":387.65},{"i":14,"r":655.4,"e":386.75},{"i":14,"r":659.0,"e":387.65},{"i":14,"r":662.6,"e":386.75},{"i":14,"r":666.2,"e":387.65},{"i":14,"r":669.8,"e":386.75},{"i":14,"r":673.4,"e":387.65},{"i":14,"r":677.0,"e":386.75},{"i":14,"r":680.6,"e":387.65},{"i":14,"r":684.2,"e":386.75},{"i":14,"r":687.8,"e":387.65},{"i":14,"r":691.4,"e":386.75},{"i":14,"r":695.0,"e":387.65},{"i":14,"r":698.6,"e":386.75},{"i":14,"r":702.2,"e":387.65},{"i":14,"r":705.8,"e":386.75},{"i":14,"r":709.4,"e":387.65},{"i":14,"r":713.0,"e":386.75},{"i":14,"r":716.6,"e":387.65},{"i":14,"r":720.2,"e":386.75},{"i":14,"r":723.8,"e":387.65},{"i":14,"r":726.5,"e":387.2},{"i":14,"r":732.9,"e":387.2},
      {"i":15,"r":620.5,"e":384.1},{"i":15,"r":624.2,"e":384.55},{"i":15,"r":627.8,"e":383.65},{"i":15,"r":631.4,"e":384.55},{"i":15,"r":635.0,"e":383.65},{"i":15,"r":638.6,"e":384.55},{"i":15,"r":642.2,"e":383.65},{"i":15,"r":645.8,"e":384.55},{"i":15,"r":649.4,"e":383.65},{"i":15,"r":653.0,"e":384.55},{"i":15,"r":656.6,"e":383.65},{"i":15,"r":660.2,"e":384.55},{"i":15,"r":663.8,"e":383.65},{"i":15,"r":667.4,"e":384.55},{"i":15,"r":671.0,"e":383.65},{"i":15,"r":674.6,"e":384.55},{"i":15,"r":678.2,"e":383.65},{"i":15,"r":681.8,"e":384.55},{"i":15,"r":685.4,"e":383.65},{"i":15,"r":689.0,"e":384.55},{"i":15,"r":692.6,"e":383.65},{"i":15,"r":696.2,"e":384.55},{"i":15,"r":699.8,"e":383.65},{"i":15,"r":703.4,"e":384.55},{"i":15,"r":707.0,"e":383.65},{"i":15,"r":710.6,"e":384.55},{"i":15,"r":714.2,"e":383.65},{"i":15,"r":717.8,"e":384.55},{"i":15,"r":721.4,"e":383.65},{"i":15,"r":725.0,"e":384.55},{"i":15,"r":726.8,"e":384.1},{"i":15,"r":732.2,"e":384.1},
      {"i":16,"r":620,"e":380.9},{"i":16,"r":621.8,"e":381.35},{"i":16,"r":625.4,"e":380.45},{"i":16,"r":629.0,"e":381.35},{"i":16,"r":632.6,"e":380.45},{"i":16,"r":636.2,"e":381.35},{"i":16,"r":639.8,"e":380.45},{"i":16,"r":643.4,"e":381.35},{"i":16,"r":647.0,"e":380.45},{"i":16,"r":650.6,"e":381.35},{"i":16,"r":654.2,"e":380.45},{"i":16,"r":657.8,"e":381.35},{"i":16,"r":661.4,"e":380.45},{"i":16,"r":665.0,"e":381.35},{"i":16,"r":668.6,"e":380.45},{"i":16,"r":672.2,"e":381.35},{"i":16,"r":675.8,"e":380.45},{"i":16,"r":679.4,"e":381.35},{"i":16,"r":683.0,"e":380.45},{"i":16,"r":686.6,"e":381.35},{"i":16,"r":690.2,"e":380.45},{"i":16,"r":693.8,"e":381.35},{"i":16,"r":697.4,"e":380.45},{"i":16,"r":701.0,"e":381.35},{"i":16,"r":704.6,"e":380.45},{"i":16,"r":708.2,"e":381.35},{"i":16,"r":711.8,"e":380.45},{"i":16,"r":715.4,"e":381.35},{"i":16,"r":719.0,"e":380.45},{"i":16,"r":722.6,"e":381.35},{"i":16,"r":725.0,"e":380.9},{"i":16,"r":730.7,"e":380.9},
      {"i":17,"r":621.8,"e":377.1},{"i":17,"r":626.6,"e":376.65},{"i":17,"r":630.2,"e":377.55},{"i":17,"r":633.8,"e":376.65},{"i":17,"r":637.4,"e":377.55},{"i":17,"r":641.0,"e":376.65},{"i":17,"r":644.6,"e":377.55},{"i":17,"r":648.2,"e":376.65},{"i":17,"r":651.8,"e":377.55},{"i":17,"r":655.4,"e":376.65},{"i":17,"r":659.0,"e":377.55},{"i":17,"r":662.6,"e":376.65},{"i":17,"r":666.2,"e":377.55},{"i":17,"r":669.8,"e":376.65},{"i":17,"r":673.4,"e":377.55},{"i":17,"r":677.0,"e":376.65},{"i":17,"r":680.6,"e":377.55},{"i":17,"r":684.2,"e":376.65},{"i":17,"r":687.8,"e":377.55},{"i":17,"r":691.4,"e":376.65},{"i":17,"r":695.0,"e":377.55},{"i":17,"r":698.6,"e":376.65},{"i":17,"r":702.2,"e":377.55},{"i":17,"r":705.8,"e":376.65},{"i":17,"r":709.4,"e":377.55},{"i":17,"r":713.0,"e":376.65},{"i":17,"r":716.6,"e":377.55},{"i":17,"r":720.2,"e":376.65},{"i":17,"r":723.8,"e":377.55},{"i":17,"r":725.6,"e":377.1},{"i":17,"r":731.8,"e":377.1},
      {"i":18,"r":621.8,"e":375.0},{"i":18,"r":624.2,"e":375.45},{"i":18,"r":627.8,"e":374.55},{"i":18,"r":631.4,"e":375.45},{"i":18,"r":635.0,"e":374.55},{"i":18,"r":638.6,"e":375.45},{"i":18,"r":642.2,"e":374.55},{"i":18,"r":645.8,"e":375.45},{"i":18,"r":649.4,"e":374.55},{"i":18,"r":653.0,"e":375.45},{"i":18,"r":656.6,"e":374.55},{"i":18,"r":660.2,"e":375.45},{"i":18,"r":663.8,"e":374.55},{"i":18,"r":667.4,"e":375.45},{"i":18,"r":671.0,"e":374.55},{"i":18,"r":674.6,"e":375.45},{"i":18,"r":678.2,"e":374.55},{"i":18,"r":681.8,"e":375.45},{"i":18,"r":685.4,"e":374.55},{"i":18,"r":689.0,"e":375.45},{"i":18,"r":692.6,"e":374.55},{"i":18,"r":696.2,"e":375.45},{"i":18,"r":699.8,"e":374.55},{"i":18,"r":703.4,"e":375.45},{"i":18,"r":707.0,"e":374.55},{"i":18,"r":710.6,"e":375.45},{"i":18,"r":714.2,"e":374.55},{"i":18,"r":717.8,"e":375.45},{"i":18,"r":721.4,"e":374.55},{"i":18,"r":723.4,"e":375.0},{"i":18,"r":730.7,"e":375.0},
      {"i":19,"r":622.9,"e":370.9},{"i":19,"r":625,"e":371.35},{"i":19,"r":629,"e":370.45},{"i":19,"r":633,"e":371.35},{"i":19,"r":637,"e":370.45},{"i":19,"r":641,"e":371.35},{"i":19,"r":645,"e":370.45},{"i":19,"r":649,"e":371.35},{"i":19,"r":653,"e":370.45},{"i":19,"r":657,"e":371.35},{"i":19,"r":661,"e":370.45},{"i":19,"r":665,"e":371.35},{"i":19,"r":669,"e":370.45},{"i":19,"r":673,"e":371.35},{"i":19,"r":677,"e":370.45},{"i":19,"r":681,"e":371.35},{"i":19,"r":685,"e":370.45},{"i":19,"r":689,"e":371.35},{"i":19,"r":693,"e":370.45},{"i":19,"r":697,"e":371.35},{"i":19,"r":701,"e":370.45},{"i":19,"r":705,"e":371.35},{"i":19,"r":709,"e":370.45},{"i":19,"r":713,"e":371.35},{"i":19,"r":717,"e":370.45},{"i":19,"r":721,"e":371.35},{"i":19,"r":723,"e":370.9},{"i":19,"r":730.3,"e":370.9},
      {"i":20,"r":624,"e":365.8},{"i":20,"r":629.6,"e":365.8},{"i":20,"r":631.6,"e":366.25},{"i":20,"r":635.7,"e":365.35},{"i":20,"r":639.8,"e":366.25},{"i":20,"r":643.9,"e":365.35},{"i":20,"r":648.0,"e":366.25},{"i":20,"r":652.1,"e":365.35},{"i":20,"r":656.2,"e":366.25},{"i":20,"r":660.3,"e":365.35},{"i":20,"r":664.4,"e":366.25},{"i":20,"r":668.5,"e":365.35},{"i":20,"r":672.6,"e":366.25},{"i":20,"r":676.7,"e":365.35},{"i":20,"r":680.8,"e":366.25},{"i":20,"r":684.9,"e":365.35},{"i":20,"r":689.0,"e":366.25},{"i":20,"r":693.1,"e":365.35},{"i":20,"r":695.2,"e":365.8},{"i":20,"r":696.5,"e":365.8},
      {"i":21,"r":626,"e":360.3},{"i":21,"r":631.4,"e":360.3},{"i":21,"r":633.5,"e":360.75},{"i":21,"r":637.7,"e":359.85},{"i":21,"r":641.9,"e":360.75},{"i":21,"r":646.1,"e":359.85},{"i":21,"r":650.3,"e":360.75},{"i":21,"r":654.5,"e":359.85},{"i":21,"r":658.7,"e":360.75},{"i":21,"r":662.9,"e":359.85},{"i":21,"r":667.1,"e":360.75},{"i":21,"r":671.3,"e":359.85},{"i":21,"r":675.5,"e":360.75},{"i":21,"r":679.7,"e":359.85},{"i":21,"r":683.9,"e":360.75},{"i":21,"r":688.1,"e":359.85},{"i":21,"r":692.3,"e":360.75},{"i":21,"r":694.5,"e":360.3},{"i":21,"r":697,"e":360.3},
      {"i":22,"r":626,"e":355.1},{"i":22,"r":632.3,"e":355.1},{"i":22,"r":634.5,"e":355.55},{"i":22,"r":638.8,"e":354.65},{"i":22,"r":643.1,"e":355.55},{"i":22,"r":647.4,"e":354.65},{"i":22,"r":651.7,"e":355.55},{"i":22,"r":656.0,"e":354.65},{"i":22,"r":660.3,"e":355.55},{"i":22,"r":664.6,"e":354.65},{"i":22,"r":668.9,"e":355.55},{"i":22,"r":673.2,"e":354.65},{"i":22,"r":677.5,"e":355.55},{"i":22,"r":681.8,"e":354.65},{"i":22,"r":686.1,"e":355.55},{"i":22,"r":690.4,"e":354.65},{"i":22,"r":692.6,"e":355.1},{"i":22,"r":700.2,"e":355.1},
      {"i":23,"r":628.3,"e":349.9},{"i":23,"r":634.8,"e":349.9},{"i":23,"r":637.0,"e":350.35},{"i":23,"r":641.4,"e":349.45},{"i":23,"r":645.8,"e":350.35},{"i":23,"r":650.2,"e":349.45},{"i":23,"r":654.6,"e":350.35},{"i":23,"r":659.0,"e":349.45},{"i":23,"r":663.4,"e":350.35},{"i":23,"r":667.8,"e":349.45},{"i":23,"r":672.2,"e":350.35},{"i":23,"r":676.6,"e":349.45},{"i":23,"r":681.0,"e":350.35},{"i":23,"r":685.4,"e":349.45},{"i":23,"r":689.8,"e":350.35},{"i":23,"r":692,"e":349.9},{"i":23,"r":698,"e":349.9},
      {"i":24,"r":620,"e":410.4},{"i":24,"r":684.6,"e":410.4},{"i":24,"r":687.5,"e":410.85},{"i":24,"r":693.3,"e":409.95},{"i":24,"r":699.1,"e":410.85},{"i":24,"r":704.9,"e":409.95},{"i":24,"r":710.7,"e":410.85},{"i":24,"r":716.5,"e":409.95},{"i":24,"r":722.3,"e":410.85},{"i":24,"r":728.1,"e":409.95},{"i":24,"r":731,"e":410.4},{"i":24,"r":737.2,"e":410.4},
      {"i":25,"r":620,"e":390.8},{"i":25,"r":691.1,"e":390.8},{"i":25,"r":694.7,"e":391.25},{"i":25,"r":702.0,"e":390.35},{"i":25,"r":709.2,"e":391.25},{"i":25,"r":716.4,"e":390.35},{"i":25,"r":723.7,"e":391.25},{"i":25,"r":727.3,"e":390.8},{"i":25,"r":733.9,"e":390.8},
      {"i":26,"r":622,"e":369.3},{"i":26,"r":700.2,"e":369.3},{"i":26,"r":705.7,"e":369.75},{"i":26,"r":716.6,"e":368.85},{"i":26,"r":722,"e":369.3},{"i":26,"r":729.6,"e":369.3},
      {"i":27,"r":704.6,"e":363.6},{"i":27,"r":707.5,"e":363.6},{"i":27,"r":712.5,"e":364.15},{"i":27,"r":718.5,"e":363.6},{"i":27,"r":727,"e":363.6}
    ]
  },
  "spacing": 29,
  "bounds": "flush",
  "hconcat": [
    {
      "width": 206,
      "height": 286,
      "title": {"text": "A", "dx": -53, "dy": 16},
      "resolve": {"axis": {"x": "independent", "y": "independent"}},
      "layer": [
        {
          "data": {"name": "well"},
          "mark": {"type": "area", "orient": "horizontal", "interpolate": "monotone", "clip": true, "color": {"gradient": "linear", "x1": 0, "y1": 0, "x2": 0, "y2": 1, "stops": [{"offset": 0, "color": "#f5f5f5"}, {"offset": 1, "color": "#c6c6c6"}]}},
          "encoding": {
            "x": {"field": "l", "type": "quantitative", "scale": {"domain": [620, 754.6], "nice": false, "zero": false}, "axis": {"orient": "bottom", "values": [620, 640, 660, 680, 700, 720, 740], "labelExpr": "datum.value % 40 == 0 ? '' : datum.label", "labelPadding": 3, "title": "Distance", "titleX": 56, "titleY": 35.5, "titleAlign": "left", "titleBaseline": "alphabetic"}},
            "x2": {"field": "r"},
            "y": {"field": "e", "type": "quantitative", "scale": {"domain": [348.8, 430], "nice": false, "zero": false}, "axis": {"orient": "left", "values": [350, 360, 370, 380, 390, 400, 410, 420, 430], "labelPadding": 7, "title": "Interaction energy (MHz)", "titleX": -40, "titleY": 143, "titleAngle": -90, "titleAlign": "center", "titleBaseline": "alphabetic"}}
          }
        },
        {
          "data": {"name": "wavA"},
          "mark": {"type": "line", "interpolate": "monotone", "clip": true, "color": "#575757", "strokeWidth": 1.2},
          "encoding": {
            "x": {"field": "r", "type": "quantitative", "scale": {"domain": [620, 754.6], "nice": false, "zero": false}, "axis": null},
            "y": {"field": "e", "type": "quantitative", "scale": {"domain": [348.8, 430], "nice": false, "zero": false}, "axis": null},
            "detail": {"field": "i", "type": "nominal"}
          }
        },
        {
          "data": {"name": "innA"},
          "mark": {"type": "line", "interpolate": "monotone", "clip": true, "color": "#ff9a1e", "strokeWidth": 1.3},
          "encoding": {
            "x": {"field": "r", "type": "quantitative", "scale": {"domain": [620, 754.6], "nice": false, "zero": false}, "axis": null},
            "y": {"field": "e", "type": "quantitative", "scale": {"domain": [348.8, 430], "nice": false, "zero": false}, "axis": null},
            "detail": {"field": "i", "type": "nominal"}
          }
        },
        {
          "data": {"name": "potA"},
          "mark": {"type": "line", "interpolate": "monotone", "clip": true, "color": "#1a1a1a", "strokeWidth": 2.2},
          "encoding": {
            "x": {"field": "r", "type": "quantitative", "scale": {"domain": [620, 754.6], "nice": false, "zero": false}, "axis": {"orient": "top", "values": [620, 640, 660, 680, 700, 720, 740], "labels": false, "title": null}},
            "y": {"field": "e", "type": "quantitative", "scale": {"domain": [348.8, 430], "nice": false, "zero": false}, "axis": {"orient": "right", "values": [350, 360, 370, 380, 390, 400, 410, 420, 430], "labels": false, "title": null}},
            "detail": {"field": "id", "type": "nominal"}
          }
        },
        {
          "data": {"name": "well"},
          "mark": {"type": "line", "interpolate": "monotone", "clip": true, "color": "#2b8ed3", "strokeWidth": 2.2},
          "encoding": {
            "x": {"field": "l", "type": "quantitative", "scale": {"domain": [620, 754.6], "nice": false, "zero": false}, "axis": {"orient": "bottom", "domain": false, "ticks": false, "labels": false, "title": "R", "titleFontStyle": "italic", "titleX": 126.4, "titleY": 35.5, "titleAlign": "left", "titleBaseline": "alphabetic"}},
            "y": {"field": "e", "type": "quantitative", "scale": {"domain": [348.8, 430], "nice": false, "zero": false}, "axis": null}
          }
        },
        {
          "data": {"name": "well"},
          "mark": {"type": "line", "interpolate": "monotone", "clip": true, "color": "#e2231b", "strokeWidth": 2.2},
          "encoding": {
            "x": {"field": "r", "type": "quantitative", "scale": {"domain": [620, 754.6], "nice": false, "zero": false}, "axis": {"orient": "bottom", "domain": false, "ticks": false, "labels": false, "title": "(nm)", "titleX": 141.6, "titleY": 35.5, "titleAlign": "left", "titleBaseline": "alphabetic"}},
            "y": {"field": "e", "type": "quantitative", "scale": {"domain": [348.8, 430], "nice": false, "zero": false}, "axis": null}
          }
        }
      ]
    },
    {
      "width": 205,
      "height": 286,
      "title": {"text": "B", "dx": -17, "dy": 16},
      "resolve": {"axis": {"x": "independent", "y": "independent"}},
      "layer": [
        {
          "data": {"name": "well"},
          "mark": {"type": "area", "orient": "horizontal", "interpolate": "monotone", "clip": true, "color": {"gradient": "linear", "x1": 0, "y1": 0, "x2": 0, "y2": 1, "stops": [{"offset": 0, "color": "#f5f5f5"}, {"offset": 1, "color": "#c6c6c6"}]}},
          "encoding": {
            "x": {"field": "l", "type": "quantitative", "scale": {"domain": [620, 754.6], "nice": false, "zero": false}, "axis": {"orient": "bottom", "values": [620, 640, 660, 680, 700, 720, 740], "labelExpr": "datum.value % 40 == 0 ? '' : datum.label", "labelPadding": 3, "title": "Distance", "titleX": 61, "titleY": 35.5, "titleAlign": "left", "titleBaseline": "alphabetic"}},
            "x2": {"field": "r"},
            "y": {"field": "e", "type": "quantitative", "scale": {"domain": [348.8, 430], "nice": false, "zero": false}, "axis": {"orient": "left", "values": [350, 360, 370, 380, 390, 400, 410, 420, 430], "labels": false, "title": null}}
          }
        },
        {
          "data": {"name": "wavB"},
          "mark": {"type": "line", "interpolate": "monotone", "clip": true, "color": "#ff9a1e", "strokeWidth": 1.3},
          "encoding": {
            "x": {"field": "r", "type": "quantitative", "scale": {"domain": [620, 754.6], "nice": false, "zero": false}, "axis": null},
            "y": {"field": "e", "type": "quantitative", "scale": {"domain": [348.8, 430], "nice": false, "zero": false}, "axis": null},
            "detail": {"field": "i", "type": "nominal"}
          }
        },
        {
          "data": {"name": "potB"},
          "transform": [{"filter": "datum.k == 'outer'"}],
          "mark": {"type": "line", "interpolate": "monotone", "clip": true, "color": "#1a1a1a", "strokeWidth": 2.2},
          "encoding": {
            "x": {"field": "r", "type": "quantitative", "scale": {"domain": [620, 754.6], "nice": false, "zero": false}, "axis": {"orient": "top", "values": [620, 640, 660, 680, 700, 720, 740], "labels": false, "title": null}},
            "y": {"field": "e", "type": "quantitative", "scale": {"domain": [348.8, 430], "nice": false, "zero": false}, "axis": {"orient": "right", "values": [350, 360, 370, 380, 390, 400, 410, 420, 430], "labels": false, "title": null}},
            "detail": {"field": "id", "type": "nominal"}
          }
        },
        {
          "data": {"name": "potB"},
          "transform": [{"filter": "datum.k == 'inner-left'"}],
          "mark": {"type": "line", "interpolate": "monotone", "clip": true, "color": "#2b8ed3", "strokeWidth": 2.2},
          "encoding": {
            "x": {"field": "r", "type": "quantitative", "scale": {"domain": [620, 754.6], "nice": false, "zero": false}, "axis": {"orient": "bottom", "domain": false, "ticks": false, "labels": false, "title": "R", "titleFontStyle": "italic", "titleX": 131.4, "titleY": 35.5, "titleAlign": "left", "titleBaseline": "alphabetic"}},
            "y": {"field": "e", "type": "quantitative", "scale": {"domain": [348.8, 430], "nice": false, "zero": false}, "axis": null},
            "detail": {"field": "id", "type": "nominal"}
          }
        },
        {
          "data": {"name": "potB"},
          "transform": [{"filter": "datum.k == 'inner-right'"}],
          "mark": {"type": "line", "interpolate": "monotone", "clip": true, "color": "#e2231b", "strokeWidth": 2.2},
          "encoding": {
            "x": {"field": "r", "type": "quantitative", "scale": {"domain": [620, 754.6], "nice": false, "zero": false}, "axis": {"orient": "bottom", "domain": false, "ticks": false, "labels": false, "title": "(nm)", "titleX": 146.6, "titleY": 35.5, "titleAlign": "left", "titleBaseline": "alphabetic"}},
            "y": {"field": "e", "type": "quantitative", "scale": {"domain": [348.8, 430], "nice": false, "zero": false}, "axis": null}
          }
        }
      ]
    }
  ]
}
